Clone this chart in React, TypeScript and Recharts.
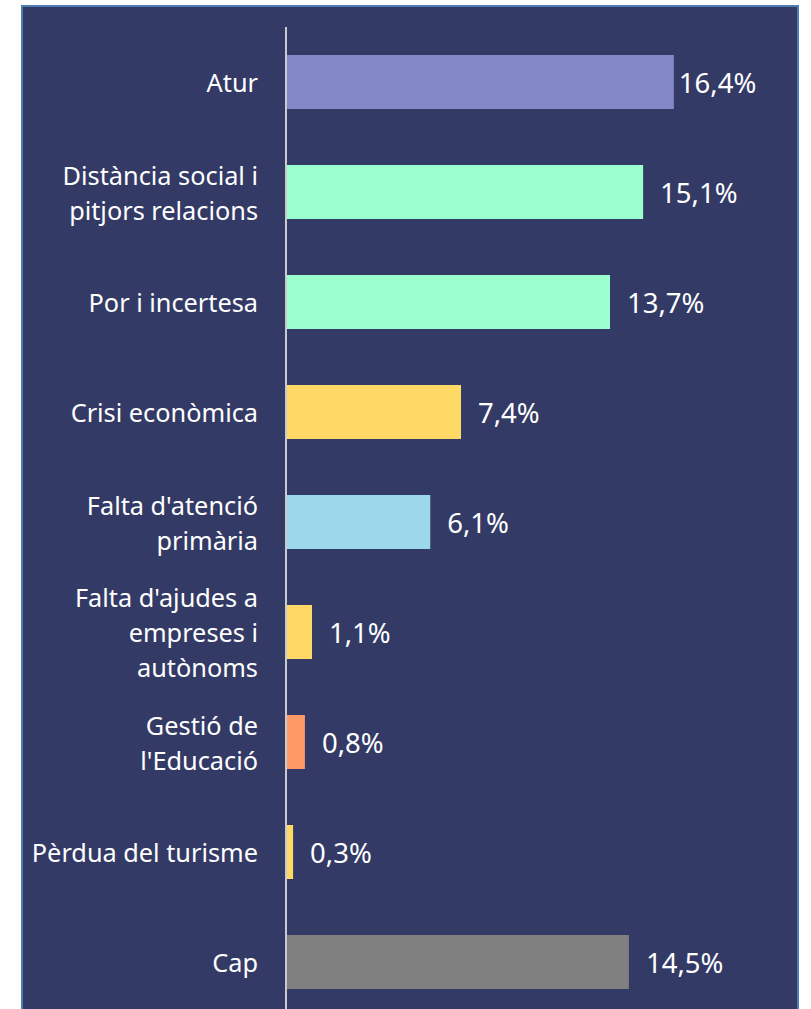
import React from 'react';
import { BarChart, Bar, XAxis, YAxis, Cell, LabelList } from 'recharts';

const categories = [
  'Atur',
  'Distància social i\npitjors relacions',
  'Por i incertesa',
  'Crisi econòmica',
  "Falta d'atenció\nprimària",
  "Falta d'ajudes a\nempreses i\nautònoms",
  "Gestió de\nl'Educació",
  'Pèrdua del turisme',
  'Cap',
];
const values = [16.4, 15.1, 13.7, 7.4, 6.1, 1.1, 0.8, 0.3, 14.5];
const barColors = ['#8488c8', '#99ffcc', '#99ffcc', '#ffd966', '#9bd9ea', '#ffd966', '#ff9966', '#ffd966', '#808080'];

const data = categories.map((name, i) => ({ name, value: values[i] }));

const FONT = "'Noto Sans', 'Open Sans', sans-serif";

const CategoryTick = (props: any) => {
  const { y, payload } = props;
  const lines = String(payload.value).split('\n');
  const lh = 35;
  const startY = y - ((lines.length - 1) * lh) / 2;
  return (
    <text x={258} y={startY} textAnchor="end" fill="#ffffff" fontFamily={FONT} fontSize={25.3} dominantBaseline="central">
      {lines.map((l, i) => (
        <tspan key={i} x={258} y={startY + i * lh} dominantBaseline="central">{l}</tspan>
      ))}
    </text>
  );
};

const ValueLabel = (props: any) => {
  const { x, y, width, height, value, index } = props;
  const gap = index === 0 ? 5 : 17;
  return (
    <text x={x + width + gap} y={y + height / 2} fill="#ffffff" fontFamily={FONT} fontSize={27.5} dominantBaseline="central" textAnchor="start">
      {String(value.toFixed(1)).replace('.', ',') + '%'}
    </text>
  );
};

export default function App() {
  return (
    <div style={{ position: 'absolute', left: 0, top: 0, width: 811, height: 1009, background: '#ffffff', overflow: 'hidden' }}>
      <div style={{ position: 'absolute', left: 21, top: 5, width: 774, height: 1030, background: '#333a66', border: '2.5px solid #4f7db3' }} />
      <div style={{ position: 'absolute', left: 0, top: 1 }}>
        <BarChart
          layout="vertical"
          width={811}
          height={1016}
          data={data}
          margin={{ top: 26, right: 52, bottom: 0, left: 0 }}
          barCategoryGap={0}
        >
          <XAxis type="number" domain={[0, 20]} hide />
          <YAxis
            type="category"
            dataKey="name"
            width={286}
            axisLine={{ stroke: '#c9c9cf', strokeWidth: 2 }}
            tickLine={false}
            tick={<CategoryTick />}
            interval={0}
          />
          <Bar dataKey="value" barSize={54} isAnimationActive={false}>
            {data.map((d, i) => (
              <Cell key={i} fill={barColors[i]} />
            ))}
            <LabelList dataKey="value" content={<ValueLabel />} />
          </Bar>
        </BarChart>
      </div>
    </div>
  );
}
